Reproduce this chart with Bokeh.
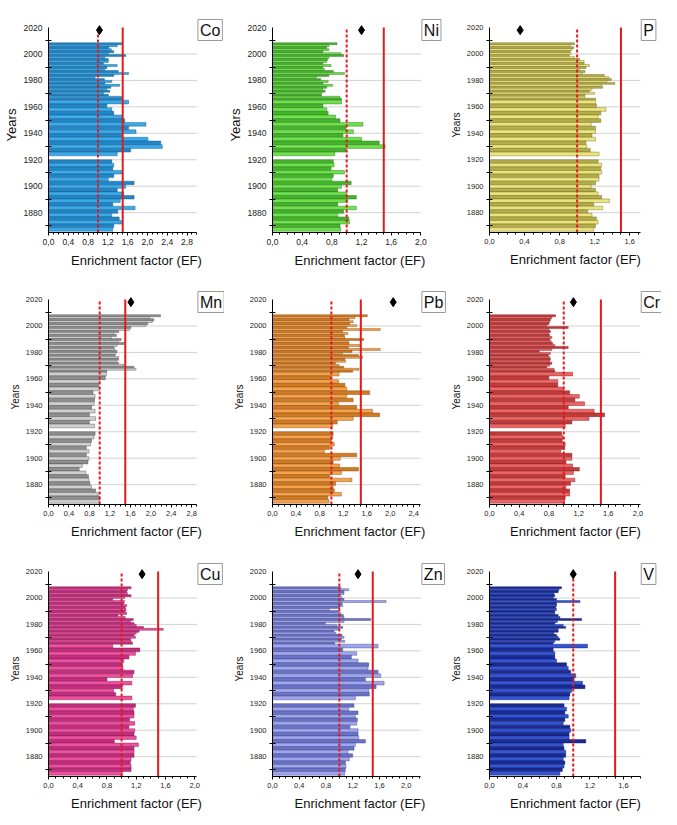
from bokeh.plotting import figure
from bokeh.layouts import gridplot
from bokeh.models import ColumnDataSource, Label, FixedTicker, CustomJSTickFormatter
from bokeh.embed import file_html
from bokeh.resources import INLINE

# ---- sample intervals (years), listed from the top (youngest) of the core down ----
top_edges = [2008.5, 2007.0, 2005.5, 2004.0, 2002.5, 2001.0, 1999.5, 1998.0, 1996.5, 1995.0,
             1993.5, 1992.0, 1990.5, 1989.0, 1987.5, 1986.0, 1984.5, 1983.0, 1981.5, 1980.0,
             1978.5, 1977.0, 1975.5, 1974.0, 1972.5, 1971.0, 1969.5, 1968.0, 1966.5, 1965.0]
mid_edges = [1965.0, 1962.2, 1959.4, 1956.6, 1953.8, 1951.0, 1948.2, 1945.4, 1942.6, 1939.8,
             1937.0, 1934.2, 1931.4, 1928.6, 1925.8, 1923.0]
low_edges = [1920.0, 1917.3, 1914.6, 1911.9, 1909.2, 1906.5, 1903.8, 1901.1, 1898.4, 1895.7,
             1893.0, 1890.3, 1887.6, 1884.9, 1882.2, 1879.5, 1876.8, 1874.1, 1871.4, 1868.7, 1866.0]

# ---- enrichment factors (top section 29, middle 15, lower 20 values) ----
ef_co = [1.48, 1.39, 1.22, 1.27, 1.32, 1.21, 1.56, 1.14, 1.21, 1.21, 1.11, 1.39, 1.18, 1.14, 1.41,
         1.62, 1.32, 0.94, 1.13, 1.28, 1.14, 1.44, 1.26, 1.18, 1.24, 1.11, 1.21, 1.48, 1.48,
         1.62, 1.18, 1.28, 1.32, 1.50, 1.54, 1.97, 1.62, 1.77, 1.48, 2.01, 2.27, 2.30, 1.66, 1.39,
         1.28, 1.32, 1.30, 1.48, 1.32, 1.21, 1.73, 1.56, 1.39, 1.52, 1.73, 1.45, 1.30, 1.75, 1.40,
         1.28, 1.43, 1.48, 1.32, 1.30]
ef_ni = [0.87, 0.76, 0.73, 0.76, 0.68, 0.92, 0.96, 0.76, 0.74, 0.73, 0.68, 0.79, 0.68, 0.70, 0.82,
         0.97, 0.76, 0.59, 0.65, 0.75, 0.68, 0.81, 0.73, 0.68, 0.71, 0.66, 0.66, 0.91, 0.93,
         0.93, 0.68, 0.73, 0.75, 0.85, 0.91, 1.22, 0.99, 1.09, 0.95, 1.20, 1.44, 1.52, 0.99, 0.84,
         0.82, 0.83, 0.79, 0.97, 0.82, 0.80, 1.06, 0.93, 0.88, 1.00, 1.13, 1.01, 0.88, 1.13, 0.96,
         0.88, 1.03, 1.04, 0.91, 0.92]
ef_p = [0.97, 0.92, 0.96, 0.94, 0.92, 0.93, 0.91, 0.97, 1.03, 1.08, 1.08, 1.14, 1.10, 1.03, 1.09,
        1.06, 1.31, 1.36, 1.39, 1.34, 1.43, 1.28, 1.29, 1.17, 1.14, 1.20, 1.09, 1.09, 1.21,
        1.21, 1.22, 1.33, 1.27, 1.24, 1.27, 1.16, 1.21, 1.21, 1.17, 1.21, 1.10, 1.11, 1.15, 1.25,
        1.24, 1.28, 1.27, 1.28, 1.25, 1.25, 1.21, 1.16, 1.21, 1.24, 1.28, 1.37, 1.19, 1.29, 1.12,
        1.17, 1.22, 1.24, 1.21, 1.19]
ef_mn = [2.19, 1.98, 2.06, 2.03, 1.94, 1.90, 1.61, 1.58, 1.37, 1.28, 1.33, 1.23, 1.42, 1.37, 1.48,
         1.34, 1.28, 1.30, 1.34, 1.32, 1.30, 1.37, 1.37, 1.33, 1.37, 1.48, 1.67, 1.71, 1.14,
         1.13, 1.11, 1.00, 0.98, 1.00, 0.87, 0.91, 0.90, 0.89, 0.84, 0.91, 0.80, 0.92, 0.80, 0.90,
         0.91, 0.89, 0.84, 0.82, 0.74, 0.79, 0.74, 0.79, 0.77, 0.66, 0.60, 0.73, 0.78, 0.79, 0.81,
         0.84, 0.92, 0.97, 1.00, 1.00]
ef_pb = [1.61, 1.40, 1.30, 1.37, 1.31, 1.43, 1.26, 1.83, 1.19, 1.28, 1.22, 1.23, 1.55, 1.29, 1.30,
         1.49, 1.29, 1.83, 1.35, 1.19, 1.46, 1.53, 1.23, 1.24, 1.07, 1.13, 1.21, 1.47, 1.36,
         1.13, 0.99, 1.12, 1.23, 1.26, 1.65, 1.26, 1.37, 1.12, 1.43, 1.70, 1.82, 1.37, 1.10, 1.02,
         1.03, 1.02, 1.00, 1.05, 0.97, 0.88, 1.43, 1.15, 1.03, 1.14, 1.46, 1.17, 0.97, 1.35, 1.07,
         1.03, 1.05, 1.17, 0.94, 0.96]
ef_cr = [0.89, 0.84, 0.82, 0.81, 0.80, 0.77, 1.06, 0.80, 0.82, 0.80, 0.81, 0.84, 0.81, 0.83, 0.85,
         0.88, 1.06, 0.84, 0.67, 0.82, 0.79, 0.81, 0.82, 0.81, 0.84, 0.81, 0.77, 0.87, 0.88,
         1.12, 0.80, 0.92, 0.92, 1.00, 1.08, 1.21, 1.15, 1.28, 1.06, 1.41, 1.55, 1.34, 1.11, 1.02,
         0.97, 0.99, 0.98, 1.02, 1.01, 0.96, 1.11, 1.11, 1.03, 1.12, 1.21, 1.13, 1.02, 1.15, 1.09,
         1.03, 1.08, 1.08, 1.02, 1.01]
ef_cu = [1.13, 1.08, 1.07, 1.08, 1.13, 1.04, 0.88, 1.04, 1.03, 1.07, 1.05, 1.06, 1.05, 1.07, 0.95,
         1.05, 1.16, 1.12, 1.17, 1.20, 1.30, 1.57, 1.24, 1.20, 1.17, 1.19, 1.12, 1.13, 1.15,
         0.88, 1.25, 1.19, 1.10, 1.03, 1.01, 1.02, 1.17, 1.15, 0.80, 1.14, 1.01, 0.89, 0.92, 1.14,
         1.19, 1.16, 1.17, 1.17, 1.11, 1.18, 1.10, 1.18, 1.17, 1.20, 0.90, 1.23, 1.17, 1.17, 1.17,
         1.13, 1.12, 1.13, 1.13, 1.01]
ef_zn = [1.02, 1.14, 1.07, 1.07, 1.01, 1.04, 1.07, 1.70, 1.04, 1.05, 1.01, 0.85, 0.99, 1.02, 1.06,
         1.07, 1.47, 1.07, 0.79, 0.96, 1.05, 0.99, 0.92, 0.95, 1.04, 1.07, 1.03, 1.08, 0.93,
         1.58, 1.05, 1.26, 1.18, 1.28, 1.44, 1.43, 1.58, 1.62, 1.39, 1.67, 1.55, 1.44, 1.45, 1.24,
         1.22, 1.14, 1.28, 1.24, 1.27, 1.26, 1.16, 1.28, 1.28, 1.29, 1.39, 1.24, 1.22, 1.13, 1.20,
         1.15, 1.09, 1.10, 1.09, 1.08]
ef_v = [0.86, 0.83, 0.82, 0.77, 0.78, 0.76, 0.80, 1.08, 0.80, 0.80, 0.79, 0.80, 0.78, 0.78, 0.82,
        0.84, 1.10, 0.81, 0.78, 0.88, 0.91, 0.82, 0.82, 0.77, 0.80, 0.82, 0.84, 0.78, 0.76,
        1.17, 0.76, 0.78, 0.78, 0.80, 0.92, 0.94, 0.97, 1.03, 1.01, 1.11, 1.14, 0.98, 0.96, 0.95,
        0.89, 0.92, 0.90, 0.94, 0.90, 0.88, 0.96, 0.97, 0.95, 0.95, 1.15, 0.88, 0.89, 0.91, 0.91,
        0.88, 0.90, 0.89, 0.87, 0.84]

elements = ["Co", "Ni", "P", "Mn", "Pb", "Cr", "Cu", "Zn", "V"]
ef_values = [ef_co, ef_ni, ef_p, ef_mn, ef_pb, ef_cr, ef_cu, ef_zn, ef_v]
x_max = [3.0, 2.0, 1.72, 2.9, 2.52, 2.03, 2.03, 2.22, 1.8]
tick_max = [2.8, 2.0, 1.6, 2.8, 2.4, 2.0, 2.0, 2.0, 1.6]
marker_ef = [1.03, 1.20, 0.35, 1.61, 2.05, 1.13, 1.28, 1.28, 1.00]
marker_year = 2018
ef_background = 1.0
ef_threshold = 1.5
light_colors = ["#3aaae8", "#6ee24c", "#ece47c", "#cfcfcf", "#f4a24e", "#ee6464", "#ee4f9e", "#a0a6ee", "#3355d6"]
dark_colors = ["#2285c8", "#44b42c", "#b4ac48", "#8e8e8e", "#d27a22", "#c43a3a", "#c42c7e", "#6a72c8", "#1b2b96"]
edge_colors = ["#124f7c", "#2a6a1a", "#6a6524", "#4a4a4a", "#7a4410", "#6e1e1e", "#701848", "#3a3e78", "#0c1450"]
year_start, year_end = 1865, 2020
year_ticks = [1880, 1900, 1920, 1940, 1960, 1980, 2000, 2020]
year_minor = [1870, 1890, 1910, 1930, 1950, 1970, 1990, 2010]
grid_years = [1880, 1900, 1920, 1940, 1960, 1980, 2000]

FONT = "Liberation Sans"

# layout (pixels)
COL_W = [224, 223, 214]
COL_LB = [39, 39, 36]
FRAME_W = 156
FRAME_H = 205
EXTRA_TOP = 10
ROW_H = 272
TOP_B = 17

bar_tops, bar_bottoms = [], []
for edges in (top_edges, mid_edges, low_edges):
    for i in range(len(edges) - 1):
        bar_tops.append(edges[i])
        bar_bottoms.append(edges[i + 1])

fmt = CustomJSTickFormatter(code="return tick.toFixed(1).replace('.', ',');")


def make_panel(k):
    name = elements[k]
    vals = ef_values[k]
    col = k % 3
    big = k < 2
    lb = COL_LB[col]
    fw = COL_W[col] - lb                     # frame incl. area for the name box
    xm = x_max[k]
    x_end = xm * fw / FRAME_W
    y_top = year_end + EXTRA_TOP * (year_end - year_start) / FRAME_H
    bottom_b = ROW_H - TOP_B - FRAME_H - EXTRA_TOP

    p = figure(width=COL_W[col], height=ROW_H, x_range=(0, x_end), y_range=(year_start, y_top),
               output_backend="svg", toolbar_location=None,
               min_border_left=lb, min_border_right=0, min_border_top=TOP_B,
               min_border_bottom=bottom_b)
    p.outline_line_color = None
    p.background_fill_color = "white"
    p.xgrid.visible = False
    p.ygrid.visible = False

    # horizontal grid lines (only across the axis extent)
    p.segment(x0=[0] * len(grid_years), x1=[xm] * len(grid_years), y0=grid_years, y1=grid_years,
              line_color="#d2d2d2", line_width=1)

    colors = [dark_colors[k] if i % 2 == 0 else light_colors[k] for i in range(len(vals))]
    src = ColumnDataSource(dict(left=[0] * len(vals), right=vals, top=bar_tops,
                                bottom=bar_bottoms, color=colors))
    p.quad(left="left", right="right", top="top", bottom="bottom", source=src,
           fill_color="color", line_color=edge_colors[k], line_width=0.5, line_alpha=0.8)

    p.segment(x0=[ef_background], x1=[ef_background], y0=[year_start], y1=[year_end],
              line_color="#e3191c", line_width=2, line_dash="3 2")
    p.segment(x0=[ef_threshold], x1=[ef_threshold], y0=[year_start], y1=[year_end],
              line_color="#e3191c", line_width=2)
    p.scatter([marker_ef[k]], [marker_year], marker="diamond", size=9, color="black")

    xt = []
    t = 0.0
    while t <= tick_max[k] + 1e-9:
        xt.append(round(t, 1))
        t += 0.4
    xminor = [round(i * 0.1, 1) for i in range(int(xm * 10 + 1e-9) + 1)]
    p.xaxis.ticker = FixedTicker(ticks=xt, minor_ticks=xminor)
    p.xaxis.formatter = fmt
    p.xaxis.bounds = (0, xm)
    p.yaxis.ticker = FixedTicker(ticks=year_ticks, minor_ticks=year_minor)
    p.yaxis.bounds = (year_start, year_end)

    tick_fs = "8.5px" if big else "7.5px"
    p.xaxis.axis_label = "Enrichment factor (EF)"
    p.yaxis.axis_label = "Years"
    for ax in (p.xaxis[0], p.yaxis[0]):
        ax.axis_label_text_font = FONT
        ax.axis_label_text_font_style = "normal"
        ax.major_label_text_font = FONT
        ax.major_label_text_font_size = tick_fs
        ax.axis_line_color = "black"
        ax.major_tick_line_color = "black"
        ax.minor_tick_line_color = "black"
        ax.major_label_text_color = "#222222"
        ax.axis_label_text_color = "#111111"
    p.xaxis.axis_label_text_font_size = "13px"
    p.yaxis.axis_label_text_font_size = "13px" if big else "10px"
    p.xaxis.major_tick_in = 0
    p.xaxis.major_tick_out = 3
    p.xaxis.minor_tick_in = 0
    p.xaxis.minor_tick_out = 2
    p.xaxis.major_label_standoff = 3
    p.xaxis.axis_label_standoff = 5
    p.yaxis.major_tick_in = 0
    p.yaxis.major_tick_out = 0
    p.yaxis.minor_tick_in = 3
    p.yaxis.minor_tick_out = 3
    p.yaxis.major_label_standoff = 3
    p.yaxis.axis_label_standoff = 2

    p.add_layout(Label(x=xm, y=y_top, x_offset=1, y_offset=-2, text=name,
                       text_font=FONT, text_font_size="16px", text_align="left",
                       text_baseline="top", text_color="#111111",
                       border_line_color="#9a9a9a", border_line_width=1,
                       background_fill_color="white", padding=2))
    return p


panels = [make_panel(k) for k in range(9)]
grid = gridplot(panels, ncols=3, toolbar_location=None)

open("out.html", "w").write(file_html(grid, INLINE))
